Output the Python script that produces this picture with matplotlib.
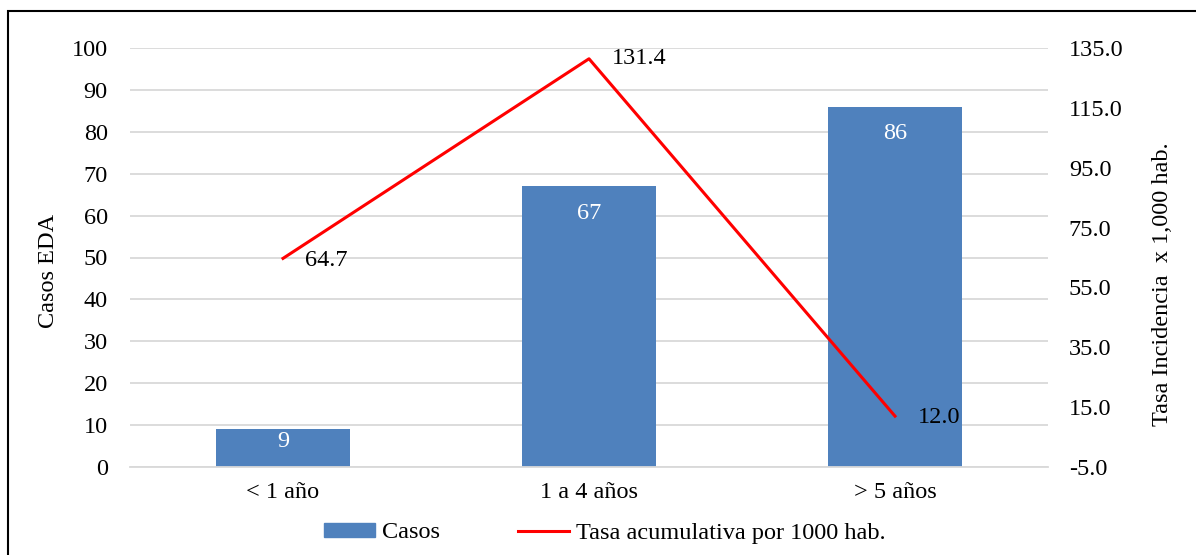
import matplotlib
matplotlib.use("Agg")
import matplotlib.pyplot as plt
from matplotlib.patches import Rectangle
from matplotlib.lines import Line2D

categories = ["< 1 año", "1 a 4 años", "> 5 años"]
casos = [9, 67, 86]
tasa = [64.7, 131.4, 12.0]
left_ticks = list(range(0, 101, 10))
right_ticks = [-5.0, 15.0, 35.0, 55.0, 75.0, 95.0, 115.0, 135.0]

plt.rcParams['font.family'] = ['Liberation Serif', 'DejaVu Serif']
FS = 17.5

fig = plt.figure(figsize=(11.96, 5.55), dpi=100)
W, H = 1196, 555
ax = fig.add_axes([130 / W, 1 - 467 / H, (1048 - 130) / W, (467 - 48) / H])
x = list(range(len(categories)))
bars = ax.bar(x, casos, width=0.435, color="#4F81BD", zorder=2)
ax.set_xlim(-0.5, 2.5)
ax.set_ylim(0, 100)
ax.set_yticks(left_ticks)
ax.yaxis.grid(True, color="#D9D9D9", linewidth=1.3, zorder=0)
ax.set_axisbelow(True)
for s in ax.spines.values():
    s.set_visible(False)
ax.spines['bottom'].set_visible(True)
ax.spines['bottom'].set_color("#D9D9D9")
ax.spines['bottom'].set_linewidth(1.3)
ax.tick_params(axis='both', length=0, labelsize=FS)
ax.tick_params(axis='x', pad=11)
ax.tick_params(axis='y', pad=16)
ax.set_xticks(x)
ax.set_xticklabels(categories)
bar_label_offsets = [-3.0, -6.5, -6.5]
for xi, v, off in zip(x, casos, bar_label_offsets):
    ax.text(xi, v + off, str(v), color="white", ha="center", va="center", fontsize=FS, zorder=4)

ax2 = ax.twinx()
ax2.set_ylim(-5, 135)
ax2.set_yticks(right_ticks)
ax2.set_yticklabels([f"{t:.1f}" for t in right_ticks])
for s in ax2.spines.values():
    s.set_visible(False)
ax2.tick_params(axis='y', length=0, labelsize=FS, pad=15)
ax2.plot(x, tasa, color="#FF0000", linewidth=2.2, zorder=3)
offsets = [(0.072, -0.7), (0.075, 0.0), (0.075, -0.5)]
for xi, v, (dx, dy) in zip(x, tasa, offsets):
    ax2.text(xi + dx, v + dy, f"{v:.1f}", color="black", ha="left", va="center", fontsize=FS, zorder=5)

fig.text(48 / W, 1 - 271 / H, "Casos EDA", rotation=90, ha="center", va="center", fontsize=FS)
fig.text(1162 / W, 1 - 284 / H, "Tasa Incidencia  x 1,000 hab.", rotation=90,
         ha="center", va="center", fontsize=FS)

handles = [Rectangle((0, 0), 1, 1, color="#4F81BD"),
           Line2D([0], [0], color="#FF0000", linewidth=2.2)]
fig.legend(handles, ["Casos", "Tasa acumulativa por 1000 hab."], loc="center",
           bbox_to_anchor=(605 / W, 1 - 533 / H), ncol=2, frameon=False,
           fontsize=FS, handlelength=2.1, handleheight=0.55, handletextpad=0.3,
           columnspacing=3.2, borderpad=0)

fig.add_artist(Rectangle((8 / W, -0.1), 1.2, 1 - 11 / H + 0.1, transform=fig.transFigure,
                         fill=False, edgecolor="black", linewidth=1.5))

fig.savefig("out.png", dpi=100)
